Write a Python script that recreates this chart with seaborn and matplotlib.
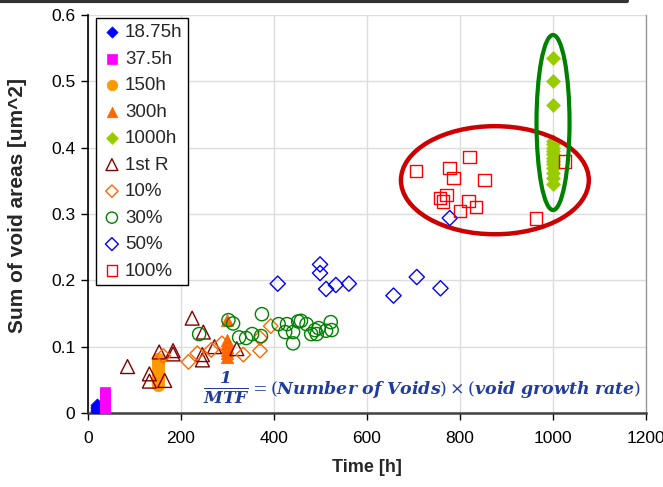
import numpy as np
import pandas as pd
import matplotlib
matplotlib.use("Agg")
import matplotlib.pyplot as plt
from matplotlib.patches import Ellipse
from matplotlib.lines import Line2D
import seaborn as sns

# ---- data: time [h] and sum of void areas [um^2] per test group ----
t_1875 = [18.75] * 5
a_1875 = [0.003, 0.005, 0.007, 0.009, 0.012]

t_375 = [37.5] * 8
a_375 = [0.004, 0.008, 0.012, 0.016, 0.020, 0.024, 0.028, 0.032]

t_150 = [150] * 9
a_150 = [0.042, 0.047, 0.052, 0.057, 0.062, 0.067, 0.072, 0.077, 0.081]

t_300 = [300] * 7
a_300 = [0.140, 0.085, 0.090, 0.095, 0.100, 0.105, 0.110]

t_1000 = [1000] * 15
a_1000 = [0.535, 0.500, 0.465, 0.410, 0.405, 0.400, 0.395, 0.390, 0.385,
          0.380, 0.375, 0.370, 0.362, 0.355, 0.345]

t_1st = [85, 132, 132, 165, 153, 183, 183, 224, 248, 246, 246, 272, 320]
a_1st = [0.070, 0.059, 0.048, 0.049, 0.092, 0.094, 0.089, 0.143, 0.122,
         0.088, 0.080, 0.100, 0.097]

t_10 = [162, 216, 235, 265, 288, 334, 370, 370, 393]
a_10 = [0.086, 0.077, 0.090, 0.095, 0.105, 0.088, 0.094, 0.113, 0.131]

t_30 = [239, 302, 312, 325, 340, 353, 372, 374, 410, 428, 424, 441, 441,
        452, 458, 470, 480, 488, 492, 496, 512, 522, 524]
a_30 = [0.119, 0.140, 0.135, 0.114, 0.113, 0.119, 0.116, 0.149, 0.134,
        0.134, 0.122, 0.122, 0.105, 0.138, 0.139, 0.134, 0.119, 0.125,
        0.119, 0.128, 0.124, 0.137, 0.125]

t_50 = [408, 499, 499, 512, 533, 561, 657, 707, 758, 778]
a_50 = [0.195, 0.224, 0.211, 0.187, 0.193, 0.195, 0.177, 0.205, 0.188, 0.294]

t_100 = [705, 777, 786, 820, 853, 771, 757, 763, 818, 834, 800, 963, 1026]
a_100 = [0.365, 0.369, 0.354, 0.386, 0.351, 0.329, 0.324, 0.319, 0.320,
         0.311, 0.305, 0.293, 0.379]

labels = ["18.75h", "37.5h", "150h", "300h", "1000h",
          "1st R", "10%", "30%", "50%", "100%"]

sns.set_theme(style="white")
plt.rcParams["font.family"] = ["Liberation Sans", "DejaVu Sans"]
plt.rcParams["mathtext.fontset"] = "dejavuserif"

fig = plt.figure(figsize=(6.63, 4.87), dpi=100)
ax = fig.add_axes([0.1327, 0.152, 0.8417, 0.817])

# (x, y, label, marker, colour, filled, size)
series = [
    (t_1875, a_1875, labels[0], "D", "#0000ff", True, 45),
    (t_375, a_375, labels[1], "s", "#ff00ff", True, 60),
    (t_150, a_150, labels[2], "o", "#ff9900", True, 80),
    (t_300, a_300, labels[3], "^", "#ff6600", True, 80),
    (t_1000, a_1000, labels[4], "D", "#99cc00", True, 50),
    (t_1st, a_1st, labels[5], "^", "#800000", False, 100),
    (t_10, a_10, labels[6], "D", "#ff6600", False, 55),
    (t_30, a_30, labels[7], "o", "#008000", False, 90),
    (t_50, a_50, labels[8], "D", "#0000ff", False, 60),
    (t_100, a_100, labels[9], "s", "#ff0000", False, 80),
]

for x, y, lab, mk, col, filled, s in series:
    df = pd.DataFrame({"Time": x, "Area": y})
    if filled:
        sns.scatterplot(data=df, x="Time", y="Area", ax=ax, marker=mk, s=s,
                        color=col, edgecolor=col, linewidth=0.5, label=lab,
                        zorder=3)
    else:
        sns.scatterplot(data=df, x="Time", y="Area", ax=ax, marker=mk, s=s,
                        facecolor="none", edgecolor=col, linewidth=1.0,
                        label=lab, zorder=3)

# highlight ellipses
ax.add_patch(Ellipse((875, 0.351), 404, 0.163, fill=False,
                     edgecolor="#cc0000", linewidth=3.2, zorder=4))
ax.add_patch(Ellipse((1000, 0.438), 71, 0.264, fill=False,
                     edgecolor="#008000", linewidth=3.0, zorder=4))

# failure-rate relation
eq_color = "#1f3c9e"
ax.text(298, 0.038, r"$\mathbfit{\frac{1}{MTF}}$", color=eq_color,
        fontsize=17.5, ha="center", va="center", zorder=5)
ax.text(347, 0.036,
        r"$= (\mathbfit{Number\ of\ Voids}) \times "
        r"(\mathbfit{void\ growth\ rate})$",
        color=eq_color, fontsize=12.5, ha="left", va="center", zorder=5)

ax.set_xlim(0, 1200)
ax.set_ylim(0, 0.6)
ax.set_xticks(np.arange(0, 1201, 200))
ax.set_yticks(np.round(np.arange(0, 0.61, 0.1), 1))
ax.set_yticklabels(["0", "0.1", "0.2", "0.3", "0.4", "0.5", "0.6"])
ax.set_xticklabels([str(v) for v in range(0, 1201, 200)])
ax.grid(True, color="#dddddd", linewidth=1.0)
ax.set_axisbelow(True)

ax.spines["top"].set_visible(False)
ax.spines["left"].set_color("black")
ax.spines["bottom"].set_color("#404040")
ax.spines["bottom"].set_linewidth(1.8)
ax.spines["left"].set_linewidth(1.2)
ax.spines["right"].set_color("#999999")
ax.spines["right"].set_linewidth(1.0)

ax.tick_params(axis="both", which="major", direction="out", length=5,
               width=1, colors="black", labelsize=12.5, left=True,
               bottom=True, pad=4)
ax.tick_params(axis="x", pad=8)

ax.set_xlabel("Time [h]", fontsize=13, fontweight="bold", labelpad=9)
ax.set_ylabel("Sum of void areas [um^2]", fontsize=15, fontweight="bold")
ax.yaxis.set_label_coords(-0.109, 0.522)

leg = ax.legend(loc="upper left", bbox_to_anchor=(0.0143, 0.992),
                frameon=True, fancybox=False, fontsize=13.5,
                handletextpad=0.15, borderpad=0.3, labelspacing=0.5,
                handlelength=1.1, borderaxespad=0.0, markerscale=0.85)
leg.get_frame().set_edgecolor("black")
leg.get_frame().set_linewidth(1.0)
leg.get_frame().set_facecolor("white")
leg.get_frame().set_alpha(1)

# page rule above the chart
fig.add_artist(Line2D([0, 0.945], [0.997, 0.997], color="#333333",
                      linewidth=3, transform=fig.transFigure))

fig.savefig("out.png", dpi=100)
